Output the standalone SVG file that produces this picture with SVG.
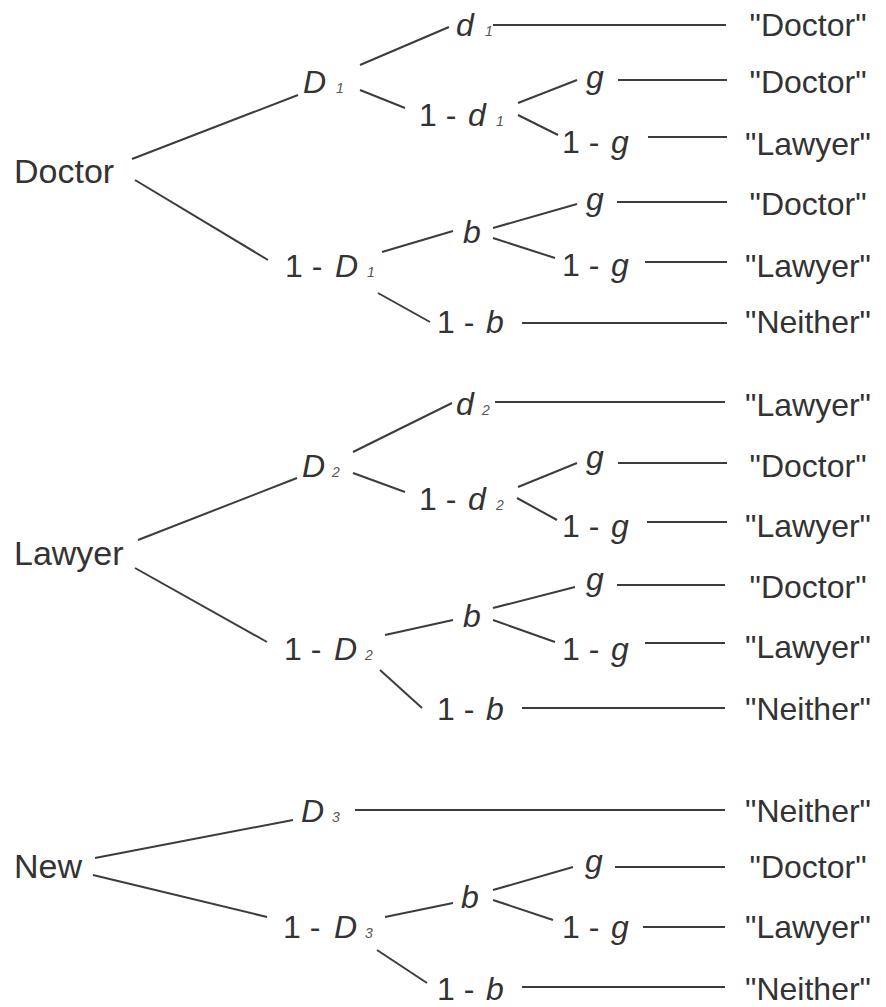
<svg xmlns="http://www.w3.org/2000/svg" width="886" height="1007" viewBox="0 0 886 1007">
<style>
  text { font-family: "Liberation Sans", Arial, sans-serif; font-size: 32px; fill: #333; }
  .i { font-style: italic; }
  .s { font-style: italic; font-size: 14px; fill: #555; }
  .r { text-anchor: middle; }
  .l { font-size: 34px; }
  .c line { stroke: #3c3c3c; stroke-width: 2; stroke-linecap: butt; }
</style>
<rect width="886" height="1007" fill="#fff"/>
<g class="c" id="connectors">
  <line x1="132" y1="159" x2="298" y2="95"/>
  <line x1="135" y1="180" x2="268" y2="260"/>
  <line x1="360" y1="65" x2="449" y2="27"/>
  <line x1="360" y1="90" x2="405" y2="108"/>
  <line x1="493" y1="25" x2="726" y2="25"/>
  <line x1="518" y1="103" x2="577" y2="80"/>
  <line x1="518" y1="115" x2="558" y2="135"/>
  <line x1="618" y1="80" x2="727" y2="80"/>
  <line x1="648" y1="137" x2="727" y2="137"/>
  <line x1="382" y1="252" x2="453" y2="231"/>
  <line x1="378" y1="293" x2="430" y2="322"/>
  <line x1="493" y1="228" x2="577" y2="204"/>
  <line x1="493" y1="238" x2="555" y2="258"/>
  <line x1="617" y1="202" x2="727" y2="202"/>
  <line x1="645" y1="262" x2="727" y2="262"/>
  <line x1="522" y1="323" x2="727" y2="323"/>

  <line x1="138" y1="540" x2="297" y2="478"/>
  <line x1="135" y1="568" x2="267" y2="642"/>
  <line x1="353" y1="452" x2="452" y2="403"/>
  <line x1="353" y1="473" x2="405" y2="492"/>
  <line x1="495" y1="402" x2="725" y2="402"/>
  <line x1="518" y1="487" x2="577" y2="463"/>
  <line x1="517" y1="498" x2="557" y2="520"/>
  <line x1="618" y1="463" x2="727" y2="463"/>
  <line x1="647" y1="522" x2="727" y2="522"/>
  <line x1="385" y1="635" x2="453" y2="620"/>
  <line x1="380" y1="670" x2="422" y2="708"/>
  <line x1="493" y1="608" x2="575" y2="587"/>
  <line x1="493" y1="620" x2="555" y2="642"/>
  <line x1="617" y1="585" x2="725" y2="585"/>
  <line x1="645" y1="643" x2="725" y2="643"/>
  <line x1="522" y1="708" x2="725" y2="708"/>

  <line x1="95" y1="858" x2="293" y2="820"/>
  <line x1="93" y1="875" x2="267" y2="917"/>
  <line x1="355" y1="810" x2="725" y2="810"/>
  <line x1="385" y1="917" x2="453" y2="903"/>
  <line x1="377" y1="950" x2="427" y2="983"/>
  <line x1="493" y1="890" x2="573" y2="867"/>
  <line x1="493" y1="900" x2="553" y2="920"/>
  <line x1="615" y1="867" x2="725" y2="867"/>
  <line x1="643" y1="927" x2="725" y2="927"/>
  <line x1="522" y1="987" x2="725" y2="987"/>
</g>

<!-- Section 1: Doctor -->
<g id="doctor"><text x="14" y="183" class="l">Doctor</text></g>
<g id="D1"><text x="303" y="93" class="i">D</text><text x="336" y="93" class="s">1</text></g>
<g id="d1"><text x="456" y="36" class="i">d</text><text x="485" y="36" class="s">1</text></g>
<g id="one-d1"><text x="419" y="126">1 - </text><text x="468" y="126" class="i">d</text><text x="496" y="126" class="s">1</text></g>
<g id="g1a"><text x="586" y="88" class="i">g</text></g>
<g id="g1b"><text x="562" y="153">1 - </text><text x="611" y="153" class="i">g</text></g>
<g id="b1"><text x="463" y="243" class="i">b</text></g>
<g id="g1c"><text x="586" y="210" class="i">g</text></g>
<g id="g1d"><text x="562" y="276">1 - </text><text x="611" y="276" class="i">g</text></g>
<g id="one-D1"><text x="285" y="277">1 - </text><text x="335" y="277" class="i">D</text><text x="367" y="277" class="s">1</text></g>
<g id="one-b1"><text x="437" y="333">1 - </text><text x="486" y="333" class="i">b</text></g>
<g id="o1"><text x="808" y="36" class="r">"Doctor"</text></g>
<g id="o2"><text x="808" y="93" class="r">"Doctor"</text></g>
<g id="o3"><text x="808" y="155" class="r">"Lawyer"</text></g>
<g id="o4"><text x="808" y="215" class="r">"Doctor"</text></g>
<g id="o5"><text x="808" y="277" class="r">"Lawyer"</text></g>
<g id="o6"><text x="808" y="333" class="r">"Neither"</text></g>

<!-- Section 2: Lawyer -->
<g id="lawyer"><text x="14" y="565" class="l">Lawyer</text></g>
<g id="D2"><text x="302" y="477" class="i">D</text><text x="332" y="477" class="s">2</text></g>
<g id="d2"><text x="456" y="415" class="i">d</text><text x="482" y="415" class="s">2</text></g>
<g id="one-d2"><text x="419" y="510">1 - </text><text x="468" y="510" class="i">d</text><text x="496" y="510" class="s">2</text></g>
<g id="g2a"><text x="586" y="468" class="i">g</text></g>
<g id="g2b"><text x="562" y="537">1 - </text><text x="611" y="537" class="i">g</text></g>
<g id="b2"><text x="463" y="627" class="i">b</text></g>
<g id="g2c"><text x="586" y="590" class="i">g</text></g>
<g id="g2d"><text x="562" y="660">1 - </text><text x="611" y="660" class="i">g</text></g>
<g id="one-D2"><text x="284" y="660">1 - </text><text x="334" y="660" class="i">D</text><text x="365" y="660" class="s">2</text></g>
<g id="one-b2"><text x="437" y="720">1 - </text><text x="486" y="720" class="i">b</text></g>
<g id="o7"><text x="808" y="416" class="r">"Lawyer"</text></g>
<g id="o8"><text x="808" y="477" class="r">"Doctor"</text></g>
<g id="o9"><text x="808" y="537" class="r">"Lawyer"</text></g>
<g id="o10"><text x="808" y="598" class="r">"Doctor"</text></g>
<g id="o11"><text x="808" y="658" class="r">"Lawyer"</text></g>
<g id="o12"><text x="808" y="720" class="r">"Neither"</text></g>

<!-- Section 3: New -->
<g id="new"><text x="14" y="878" class="l">New</text></g>
<g id="D3"><text x="301" y="822" class="i">D</text><text x="332" y="822" class="s">3</text></g>
<g id="one-D3"><text x="283" y="938">1 - </text><text x="334" y="938" class="i">D</text><text x="365" y="938" class="s">3</text></g>
<g id="b3"><text x="461" y="908" class="i">b</text></g>
<g id="g3a"><text x="585" y="872" class="i">g</text></g>
<g id="g3b"><text x="562" y="938">1 - </text><text x="611" y="938" class="i">g</text></g>
<g id="one-b3"><text x="437" y="1000">1 - </text><text x="486" y="1000" class="i">b</text></g>
<g id="o13"><text x="808" y="822" class="r">"Neither"</text></g>
<g id="o14"><text x="808" y="878" class="r">"Doctor"</text></g>
<g id="o15"><text x="808" y="938" class="r">"Lawyer"</text></g>
<g id="o16"><text x="808" y="1000" class="r">"Neither"</text></g>
</svg>
